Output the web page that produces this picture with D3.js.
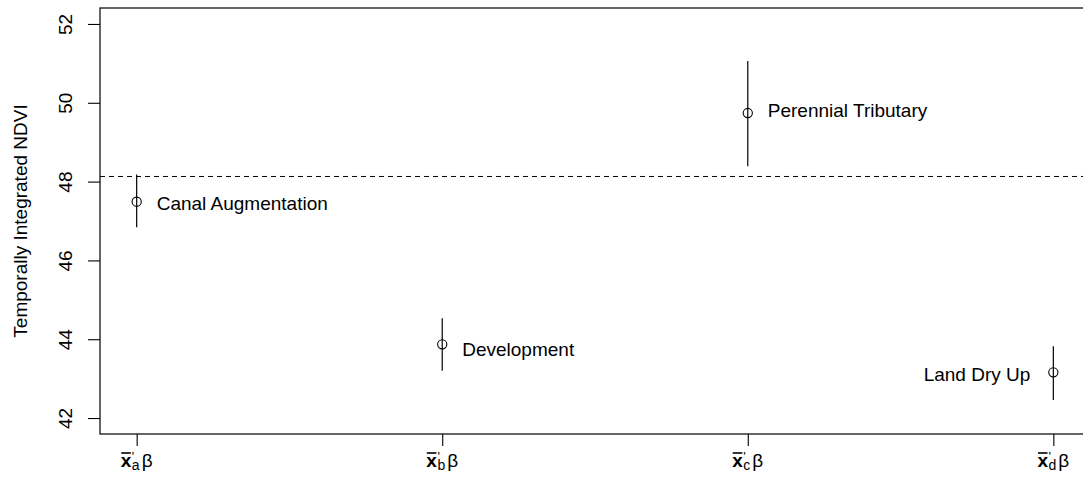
<!DOCTYPE html>
<html>
<head>
<meta charset="utf-8">
<script src="https://cdn.jsdelivr.net/npm/d3@7"></script>
<style>
  html, body { margin: 0; padding: 0; background: #fff; }
  svg { display: block; font-family: "Liberation Sans", Arial, Helvetica, sans-serif; }
</style>
</head>
<body>
<svg id="chart" width="1083" height="479"></svg>
<script>
// Effect groups on the x axis (subscript letter of each contrast)
const groups = ["a", "b", "c", "d"];
const groupNames = ["Canal Augmentation", "Development", "Perennial Tributary", "Land Dry Up"];
// Estimated temporally integrated NDVI and its interval
const estimate = [47.49, 43.87, 49.74, 43.16];
const lower = [46.84, 43.20, 48.39, 42.46];
const upper = [48.18, 44.53, 51.06, 43.82];
// Height (NDVI units) at which each name is written
const labelAt = [47.46, 43.75, 49.82, 43.13];
// Which side of the point each name sits on
const labelSide = ["right", "right", "right", "left"];
// Reference level drawn as a dashed line
const referenceLevel = [48.13];
const yTicks = [42, 44, 46, 48, 50, 52];

const svg = d3.select("#chart");
const W = 1083, H = 479;
const plot = { left: 100, top: 8, right: 1090, bottom: 434 };

const x = d3.scaleLinear().domain([0.88, 4.12]).range([plot.left, plot.right]);
const y = d3.scaleLinear().domain([41.595, 52.405]).range([plot.bottom, plot.top]);

const fontSize = 19;

// plotting frame
svg.append("rect")
  .attr("x", plot.left).attr("y", plot.top)
  .attr("width", plot.right - plot.left).attr("height", plot.bottom - plot.top)
  .attr("fill", "none").attr("stroke", "#000").attr("stroke-width", 1.2);

// y axis
const yAxis = d3.axisLeft(y).tickValues(yTicks).tickSize(12).tickPadding(4).tickFormat(d3.format("d"));
const gy = svg.append("g").attr("transform", `translate(${plot.left},0)`).call(yAxis);
gy.select(".domain").remove();
gy.selectAll(".tick line").attr("stroke", "#000").attr("stroke-width", 1.1);
gy.selectAll(".tick text")
  .attr("font-size", fontSize)
  .attr("fill", "#000")
  .attr("text-anchor", "middle")
  .attr("x", null).attr("dy", null)
  .attr("transform", "translate(-28,0) rotate(-90)");

svg.append("text")
  .attr("transform", `translate(27,${(plot.top + plot.bottom) / 2}) rotate(-90)`)
  .attr("text-anchor", "middle")
  .attr("font-size", fontSize)
  .attr("fill", "#000")
  .text("Temporally Integrated NDVI");

// x axis ticks
const xAxis = d3.axisBottom(x).tickValues([1, 2, 3, 4]).tickSize(12).tickFormat("");
const gx = svg.append("g").attr("transform", `translate(0,${plot.bottom})`).call(xAxis);
gx.select(".domain").remove();
gx.selectAll(".tick line").attr("stroke", "#000").attr("stroke-width", 1.1);

// x tick labels: bold x with overbar and prime, group subscript, beta
groups.forEach((g, i) => {
  const lab = svg.append("g");
  const base = 467;
  const t = lab.append("text").attr("x", 0).attr("y", base).attr("fill", "#000");
  const xs = t.append("tspan").attr("font-size", fontSize).attr("font-weight", "bold").text("x");
  const wx = xs.node().getComputedTextLength();
  const pr = t.append("tspan").attr("font-size", 13).attr("dx", 0.5).attr("dy", -6).text("'");
  const wp = pr.node().getComputedTextLength();
  const sub = t.append("tspan").attr("font-size", 14).attr("dx", -wp).attr("dy", 9).text(g);
  const ws = sub.node().getComputedTextLength();
  const beta = t.append("tspan").attr("font-size", fontSize).attr("dx", 2).attr("dy", -3).text("β");
  const wb = beta.node().getComputedTextLength();
  lab.append("line")
    .attr("x1", 0.5).attr("x2", wx - 0.5)
    .attr("y1", base - 14).attr("y2", base - 14)
    .attr("stroke", "#000").attr("stroke-width", 1.6);
  const total = wx + 0.5 + ws + 2 + wb;
  lab.attr("transform", `translate(${x(i + 1) - total / 2},0)`);
});

// dashed reference line
svg.selectAll(".ref").data(referenceLevel).join("line")
  .attr("class", "ref")
  .attr("x1", plot.left).attr("x2", W)
  .attr("y1", d => y(d)).attr("y2", d => y(d))
  .attr("stroke", "#000").attr("stroke-width", 1)
  .attr("stroke-dasharray", "5,4");

const rows = groups.map((g, i) => ({
  i, name: groupNames[i], est: estimate[i], lo: lower[i], hi: upper[i],
  lab: labelAt[i], side: labelSide[i]
}));

// intervals
svg.selectAll(".ci").data(rows).join("line")
  .attr("class", "ci")
  .attr("x1", d => x(d.i + 1)).attr("x2", d => x(d.i + 1))
  .attr("y1", d => y(d.lo)).attr("y2", d => y(d.hi))
  .attr("stroke", "#000").attr("stroke-width", 1.2);

// point estimates
svg.selectAll(".pt").data(rows).join("circle")
  .attr("class", "pt")
  .attr("cx", d => x(d.i + 1)).attr("cy", d => y(d.est))
  .attr("r", 4.6)
  .attr("fill", "none").attr("stroke", "#000").attr("stroke-width", 1.1);

// group names
svg.selectAll(".nm").data(rows).join("text")
  .attr("class", "nm")
  .attr("x", d => x(d.i + 1) + (d.side === "right" ? 20 : -23))
  .attr("y", d => y(d.lab) + 7)
  .attr("text-anchor", d => d.side === "right" ? "start" : "end")
  .attr("font-size", fontSize)
  .attr("fill", "#000")
  .text(d => d.name);
</script>
</body>
</html>
